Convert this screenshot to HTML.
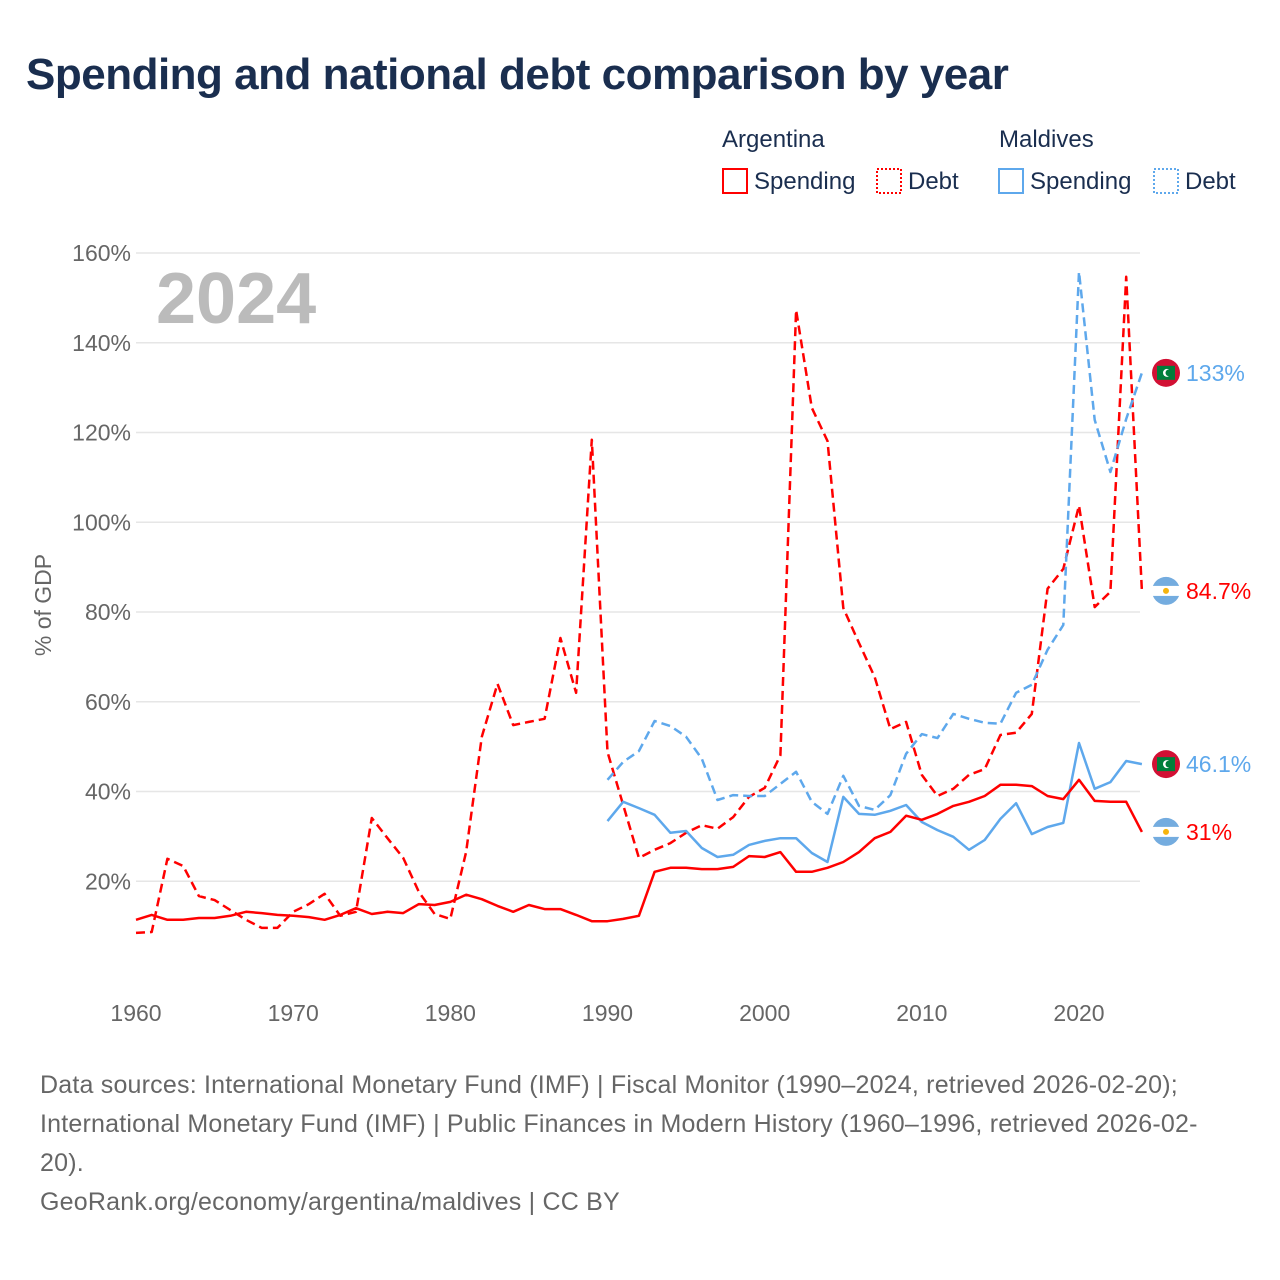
<!DOCTYPE html>
<html><head><meta charset="utf-8">
<style>
body{margin:0;background:#fff;font-family:"Liberation Sans",sans-serif;}
#wrap{position:relative;width:1280px;height:1280px;overflow:hidden;}
h1{position:absolute;left:26px;top:50px;margin:0;font-size:44px;font-weight:bold;color:#1a2e4f;letter-spacing:-0.5px;}
.src{position:absolute;left:40px;top:1066px;width:1190px;font-size:25px;letter-spacing:0.2px;line-height:39px;color:#666;}
</style></head><body>
<div id="wrap">
<h1>Spending and national debt comparison by year</h1>
<svg id="chart" width="1280" height="1280" style="position:absolute;left:0;top:0"></svg>
<div class="src">Data sources: International Monetary Fund (IMF) | Fiscal Monitor (1990–2024, retrieved 2026-02-20); International Monetary Fund (IMF) | Public Finances in Modern History (1960–1996, retrieved 2026-02-20).<br>GeoRank.org/economy/argentina/maldives | CC BY</div>
</div>
<script>
const argYears=[];for(let y=1960;y<=2024;y++)argYears.push(y);
const mdvYears=[];for(let y=1990;y<=2024;y++)mdvYears.push(y);
const argSpending=[11.4,12.5,11.4,11.4,11.8,11.8,12.3,13.2,12.9,12.5,12.3,12.0,11.4,12.5,14.0,12.7,13.2,12.9,14.9,14.7,15.4,17.0,16.0,14.5,13.2,14.7,13.8,13.8,12.5,11.1,11.1,11.6,12.3,22.1,23.0,23.0,22.7,22.7,23.2,25.6,25.4,26.5,22.1,22.1,23.0,24.3,26.5,29.6,31.0,34.6,33.7,35.0,36.8,37.7,39.0,41.5,41.5,41.2,39.0,38.3,42.6,37.9,37.7,37.7,31.0];
const argDebt=[8.5,8.7,25.0,23.4,16.7,15.8,13.6,11.4,9.6,9.6,13.2,14.9,17.2,12.3,13.2,34.1,29.6,25.2,17.6,12.7,11.6,26.5,52.2,64.0,54.8,55.5,56.2,74.2,62.0,118.4,48.8,37.0,25.2,27.0,28.5,30.8,32.5,31.7,34.3,38.8,40.8,48.1,147.3,125.5,118.1,80.9,73.1,65.5,53.9,55.5,43.7,39.0,40.6,43.7,45.0,52.6,53.1,57.3,85.2,89.6,103.7,81.1,84.5,154.7,84.7];
const mdvSpending=[33.4,37.7,36.3,34.8,30.8,31.2,27.4,25.4,25.9,28.1,29.0,29.6,29.6,26.3,24.3,38.8,35.0,34.8,35.7,37.0,33.2,31.4,29.9,27.0,29.2,33.9,37.4,30.5,32.1,33.0,50.8,40.6,42.1,46.8,46.1];
const mdvDebt=[42.6,46.6,49.0,55.7,54.6,52.2,47.3,38.1,39.2,39.0,39.0,41.7,44.4,37.7,35.0,43.5,36.8,35.9,39.2,48.4,52.8,51.9,57.3,56.2,55.3,55.1,62.0,63.8,71.6,77.1,155.8,122.8,111.2,123.0,133.3];
const yTicks=[20,40,60,80,100,120,140,160];
const xTicks=[1960,1970,1980,1990,2000,2010,2020];

const svg=document.getElementById('chart');const NS='http://www.w3.org/2000/svg';
function X(yr){return 136+(yr-1960)*(1079-136)/60;}
function Y(v){return 971-v*(971-253)/160;}
function mk(t,a,p){const e=document.createElementNS(NS,t);for(const k in a)e.setAttribute(k,a[k]);(p||svg).appendChild(e);return e;}
yTicks.forEach(t=>{
 const g=mk('line',{x1:136,x2:1140,y1:Y(t),y2:Y(t),stroke:'#e6e6e6','stroke-width':1.5});
 
 
 const l=mk('text',{x:131,y:Y(t)+8,'text-anchor':'end','font-size':23,fill:'#666'});l.textContent=t+'%';
 
 
});
xTicks.forEach(t=>{
 const l=mk('text',{x:X(t),y:1021,'text-anchor':'middle','font-size':23,fill:'#666'});l.textContent=t;
 
 
});
const yt=mk('text',{x:0,y:0,transform:'translate(51,605) rotate(-90)','text-anchor':'middle','font-size':23,fill:'#666'});yt.textContent='% of GDP';


const yr=mk('text',{x:156,y:323,'font-size':72,'font-weight':'bold',fill:'#bbb'});yr.textContent='2024';


function series(years,vals,color,dash,name){
 const d=vals.map((v,i)=>(i?'L':'M')+X(years[i]).toFixed(1)+','+Y(v).toFixed(1)).join('');
 const p=mk('path',{d:d,fill:'none',stroke:color,'stroke-width':2.5,'stroke-dasharray':dash||'none','stroke-linejoin':'round'});
 
 
}
series(argYears,argDebt,'#ff0000','9,5','argentina-debt-line');
series(mdvYears,mdvDebt,'#5ea8ec','9,5','maldives-debt-line');
series(mdvYears,mdvSpending,'#5ea8ec','','maldives-spending-line');
series(argYears,argSpending,'#ff0000','','argentina-spending-line');
function endLabel(v,txt,color,flag){
 const cy=Y(v);
 const g=mk('g',{});
 
 
 if(flag==='mdv'){mk('circle',{cx:1166,cy:cy,r:14,fill:'#d21034'},g);mk('rect',{x:1157,y:cy-7,width:18,height:14,fill:'#007e3a'},g);mk('circle',{cx:1167,cy:cy,r:4,fill:'#fff'},g);mk('circle',{cx:1169,cy:cy,r:3.5,fill:'#007e3a'},g);}
 else{mk('circle',{cx:1166,cy:cy,r:14,fill:'#74acdf'},g);mk('rect',{x:1152,y:cy-5,width:28,height:10,fill:'#fff'},g);mk('circle',{cx:1166,cy:cy,r:3,fill:'#f6b40e'},g);}
 const t=mk('text',{x:1186,y:cy+8,'font-size':23,fill:color},g);t.textContent=txt;
}
endLabel(133.3,'133%','#5ea8ec','mdv');
endLabel(84.7,'84.7%','#ff0000','arg');
endLabel(46.1,'46.1%','#5ea8ec','mdv');
endLabel(31,'31%','#ff0000','arg');
function legText(x,y,s,c,n){const t=mk('text',{x:x,y:y,'font-size':24,fill:c||'#1a2e4f'});t.textContent=s;}
legText(722,147,'Argentina',null,'legend-group-argentina');
legText(999,147,'Maldives',null,'legend-group-maldives');
function legBox(x,color,dotted,label,n){
 const g=mk('g',{});
 
 
 mk('rect',{x:x,y:169,width:24,height:24,fill:'none',stroke:color,'stroke-width':2,'stroke-dasharray':dotted?'2,2':'none'},g);
 const t=mk('text',{x:x+31,y:189,'font-size':24,fill:'#1a2e4f'},g);t.textContent=label;
}
legBox(723,'#ff0000',false,'Spending','legend-argentina-spending');
legBox(877,'#ff0000',true,'Debt','legend-argentina-debt');
legBox(999,'#5ea8ec',false,'Spending','legend-maldives-spending');
legBox(1154,'#5ea8ec',true,'Debt','legend-maldives-debt');
</script>
</body></html>
